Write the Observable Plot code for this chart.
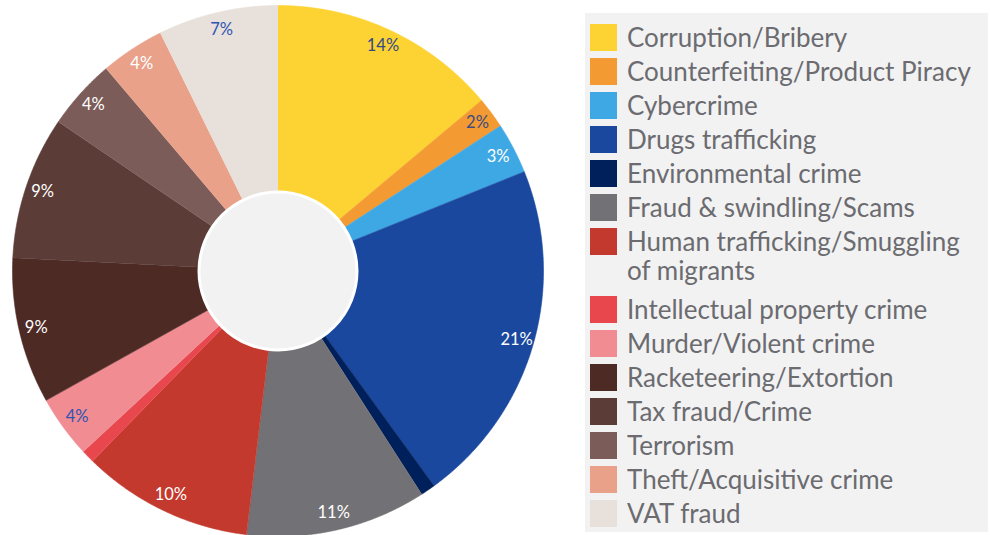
<!DOCTYPE html>
<html>
<head>
<meta charset="utf-8">
<script src="https://cdn.jsdelivr.net/npm/d3@7"></script>
<script src="https://cdn.jsdelivr.net/npm/@observablehq/plot@0.6"></script>
<style>
  html, body { margin: 0; padding: 0; background: #ffffff; }
  #wrap { position: relative; width: 990px; height: 535px; overflow: hidden; font-family: Lato, "Open Sans", sans-serif; }
  #chart { position: absolute; left: 0; top: 0; }
  #legend { position: absolute; left: 585px; top: 13px; width: 403px; height: 519px; background: #f2f2f2; }
  .item { position: absolute; left: 0; width: 100%; }
  .sw { position: absolute; left: 5px; width: 27px; height: 27px; }
  .lbl { position: absolute; left: 42px; color: #6b6b70; font-size: 26px; white-space: nowrap; }
</style>
</head>
<body>
<div id="wrap">
  <div id="chart"></div>
  <div id="legend"></div>
</div>
<script>
// ---- data ----
const categories = [
  "Corruption/Bribery",
  "Counterfeiting/Product Piracy",
  "Cybercrime",
  "Drugs trafficking",
  "Environmental crime",
  "Fraud & swindling/Scams",
  "Human trafficking/Smuggling of migrants",
  "Intellectual property crime",
  "Murder/Violent crime",
  "Racketeering/Extortion",
  "Tax fraud/Crime",
  "Terrorism",
  "Theft/Acquisitive crime",
  "VAT fraud"
];
// share of each category (percent)
const shares = [13.9, 1.9, 3.1, 21.1, 0.9, 11.0, 10.4, 0.8, 3.8, 8.9, 8.7, 4.3, 3.9, 7.3];
// percentage labels printed on the slices ("" = no label)
const sliceLabels = ["14%", "2%", "3%", "21%", "", "11%", "10%", "", "4%", "9%", "9%", "4%", "4%", "7%"];
// legend text (line break as printed)
const legendLines = [
  ["Corruption/Bribery"],
  ["Counterfeiting/Product Piracy"],
  ["Cybercrime"],
  ["Drugs trafficking"],
  ["Environmental crime"],
  ["Fraud & swindling/Scams"],
  ["Human trafficking/Smuggling", "of migrants"],
  ["Intellectual property crime"],
  ["Murder/Violent crime"],
  ["Racketeering/Extortion"],
  ["Tax fraud/Crime"],
  ["Terrorism"],
  ["Theft/Acquisitive crime"],
  ["VAT fraud"]
];

// ---- styles ----
const palette = ["#fdd333", "#f39a32", "#3ea8e4", "#1a489f", "#00205b", "#727175", "#c4392d",
                 "#e8474e", "#f08c92", "#4e2a25", "#5b3c37", "#7b5c58", "#e9a18a", "#e8e0da"];
const labelInk = ["#334a86", "#3c4c80", "#ffffff", "#ffffff", "#ffffff", "#ffffff", "#ffffff",
                  "#ffffff", "#2f55b2", "#ffffff", "#ffffff", "#ffffff", "#ffffff", "#2f55b2"];

// ---- geometry (derived from data) ----
const arcs = d3.pie().sort(null).value(d => d)(shares);
const polys = [];
arcs.forEach((a, i) => {
  const name = categories[i];
  polys.push({name, x: 0, y: 0});
  const n = Math.max(2, Math.ceil((a.endAngle - a.startAngle) / 0.005));
  for (let k = 0; k <= n; k++) {
    const t = a.startAngle + (a.endAngle - a.startAngle) * k / n;
    polys.push({name, x: Math.sin(t), y: Math.cos(t)});
  }
});
const labelRadius = 0.935;
const labels = arcs.map((a, i) => {
  const m = (a.startAngle + a.endAngle) / 2;
  return {name: categories[i], text: sliceLabels[i], ink: labelInk[i],
          x: labelRadius * Math.sin(m), y: labelRadius * Math.cos(m)};
}).filter(d => d.text);

const chart = Plot.plot({
  width: 560,
  height: 535,
  margin: 0,
  x: {domain: [-1, 1], range: [12, 543], axis: null},
  y: {domain: [-1, 1], range: [536, 5], axis: null},
  color: {domain: categories, range: palette},
  style: {background: "transparent", fontFamily: "Lato, 'Open Sans', sans-serif"},
  marks: [
    Plot.line(polys, {x: "x", y: "y", z: "name", fill: "name", stroke: "name", strokeWidth: 0.6, curve: "linear"}),
    Plot.dot([{x: 0, y: 0}], {x: "x", y: "y", r: 79, fill: "#f2f2f2", stroke: "#ffffff", strokeWidth: 3}),
    Plot.text(labels, {x: "x", y: "y", text: "text", fill: d => d.ink, fontSize: 16.5, textAnchor: "middle"})
  ]
});
document.getElementById("chart").appendChild(chart);

// ---- legend ----
const legendBox = document.getElementById("legend");
let rowTop = 7;
legendLines.forEach((lines, i) => {
  const item = document.createElement("div");
  item.className = "item";
  const h = lines.length === 1 ? 34 : 68;
  item.style.top = rowTop + "px";
  item.style.height = h + "px";
  const sw = document.createElement("div");
  sw.className = "sw";
  sw.style.background = palette[i];
  sw.style.top = "3.5px";
  const lb = document.createElement("div");
  lb.className = "lbl";
  lb.style.top = "0px";
  lb.style.lineHeight = lines.length === 1 ? "34px" : "29px";
  if (lines.length > 1) lb.style.paddingTop = "2.5px";
  lb.innerHTML = lines.map(s => s.replace(/&/g, "&amp;")).join("<br>");
  item.appendChild(sw);
  item.appendChild(lb);
  legendBox.appendChild(item);
  rowTop += h;
});
</script>
</body>
</html>
